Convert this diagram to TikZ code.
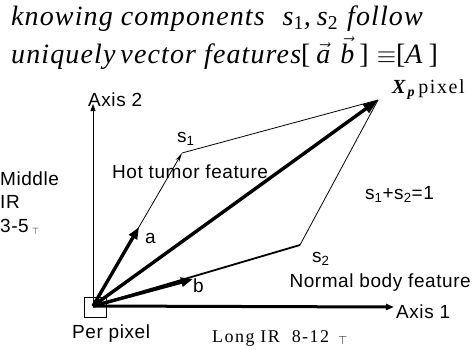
\documentclass[tikz,border=0pt]{standalone}
\usepackage{fontspec}
\setmainfont{Liberation Serif}
\setsansfont{Liberation Sans}[LetterSpace=3]
\newfontfamily\tfont{Liberation Serif}[LetterSpace=4]
\newfontfamily\lfont{Liberation Serif}[LetterSpace=8]
\usetikzlibrary{arrows.meta}
\begin{document}
\begin{tikzpicture}[x=1pt,y=-1pt,
  lbl/.style={font=\sffamily\fontsize{19}{21}\selectfont, inner sep=0pt, anchor=base west},
  ttl/.style={font=\tfont\itshape\fontsize{28}{31}\selectfont, inner sep=0pt, anchor=base west},
  thickarrow/.style={line width=3.4pt, -{Triangle[length=15pt,width=10pt]}},
  thinline/.style={line width=0.8pt}]
\useasboundingbox (0,0) rectangle (472,349);
% key points
\coordinate (O) at (93,306);
\coordinate (Xp) at (378,100);
\coordinate (s1) at (182,153);
\coordinate (s2) at (300,245);
\coordinate (a) at (139,227);
\coordinate (b) at (193,279);
\coordinate (ax1) at (394,307);
\coordinate (ax2) at (93,104);
% title
\node[ttl] (t1) at (11,25) {knowing components\hspace{18pt}s\textsubscript{\upshape 1},\hspace{6pt}s\textsubscript{\upshape 2}\hspace{9pt}follow};
\node[ttl] (t2) at (11,63) {uniquely\hspace{5pt}vector features{\upshape[}\hspace{6pt}$\vec{\mbox{\itshape a}}$\hspace{10pt}$\vec{\mbox{\itshape b}}$\hspace{5pt}{\upshape]}\hspace{8pt}$\equiv${\upshape[}A\hspace{6pt}{\upshape]}};
% per pixel box
\node[draw, line width=0.8pt, minimum width=22pt, minimum height=20pt, inner sep=0pt] (box) at (95,307) {};
% axes
\draw[thinline, -{Triangle[length=7pt,width=5pt]}] (O) -- (ax2);
\draw[line width=3pt, -{Triangle[length=8pt,width=6pt]}] (O) -- (ax1);
% parallelogram
\draw[thinline] (s1) -- (Xp);
\draw[thinline] (s2) -- (Xp);
\draw[thinline, -{Stealth[length=9pt,width=4pt]}] (O) -- (s1);
\draw[line width=1.8pt] (O) -- (s2);
% vectors
\draw[thickarrow] (O) -- (Xp);
\draw[thickarrow, -{Triangle[length=12pt,width=9pt]}] (O) -- (a);
\draw[thickarrow, -{Triangle[length=12pt,width=9pt]}] (O) -- (b);
% labels
\node[lbl] (lax2) at (88,106) {Axis 2};
\node[lbl] (lax1) at (396,318) {Axis 1};
\node[lbl] (ls1) at (177,142) {s\textsubscript{1}};
\node[lbl] (ls2) at (312,262) {s\textsubscript{2}};
\node[lbl] (la) at (145,243) {a};
\node[lbl] (lb) at (193,292) {b};
\node[lbl] (hot) at (112,178) {Hot tumor feature};
\node[lbl, anchor=base east] (norm) at (471,287) {Normal body feature};
\node[lbl] (sum) at (365,199) {s\textsubscript{1}+s\textsubscript{2}=1};
\node[lbl] (mid1) at (0,185) {Middle};
\node[lbl] (mid2) at (0,208) {IR};
\node[lbl] (mid3) at (0,232) {3-5\,{\fontsize{13}{15}\selectfont$_{\top}$}};
\node[lbl] (pp) at (72,338) {Per pixel};
\node[inner sep=0pt, anchor=base west, font=\lfont\fontsize{18}{20}\selectfont] (long) at (212,342) {Long IR\ \ 8-12 \,$_{\top}$};
\node[inner sep=0pt, anchor=base west, font=\lfont\fontsize{20}{22}\selectfont] (xpl) at (392,93) {\textbf{\itshape X}\textsubscript{\bfseries\itshape p}\,pixel};
\end{tikzpicture}
\end{document}
